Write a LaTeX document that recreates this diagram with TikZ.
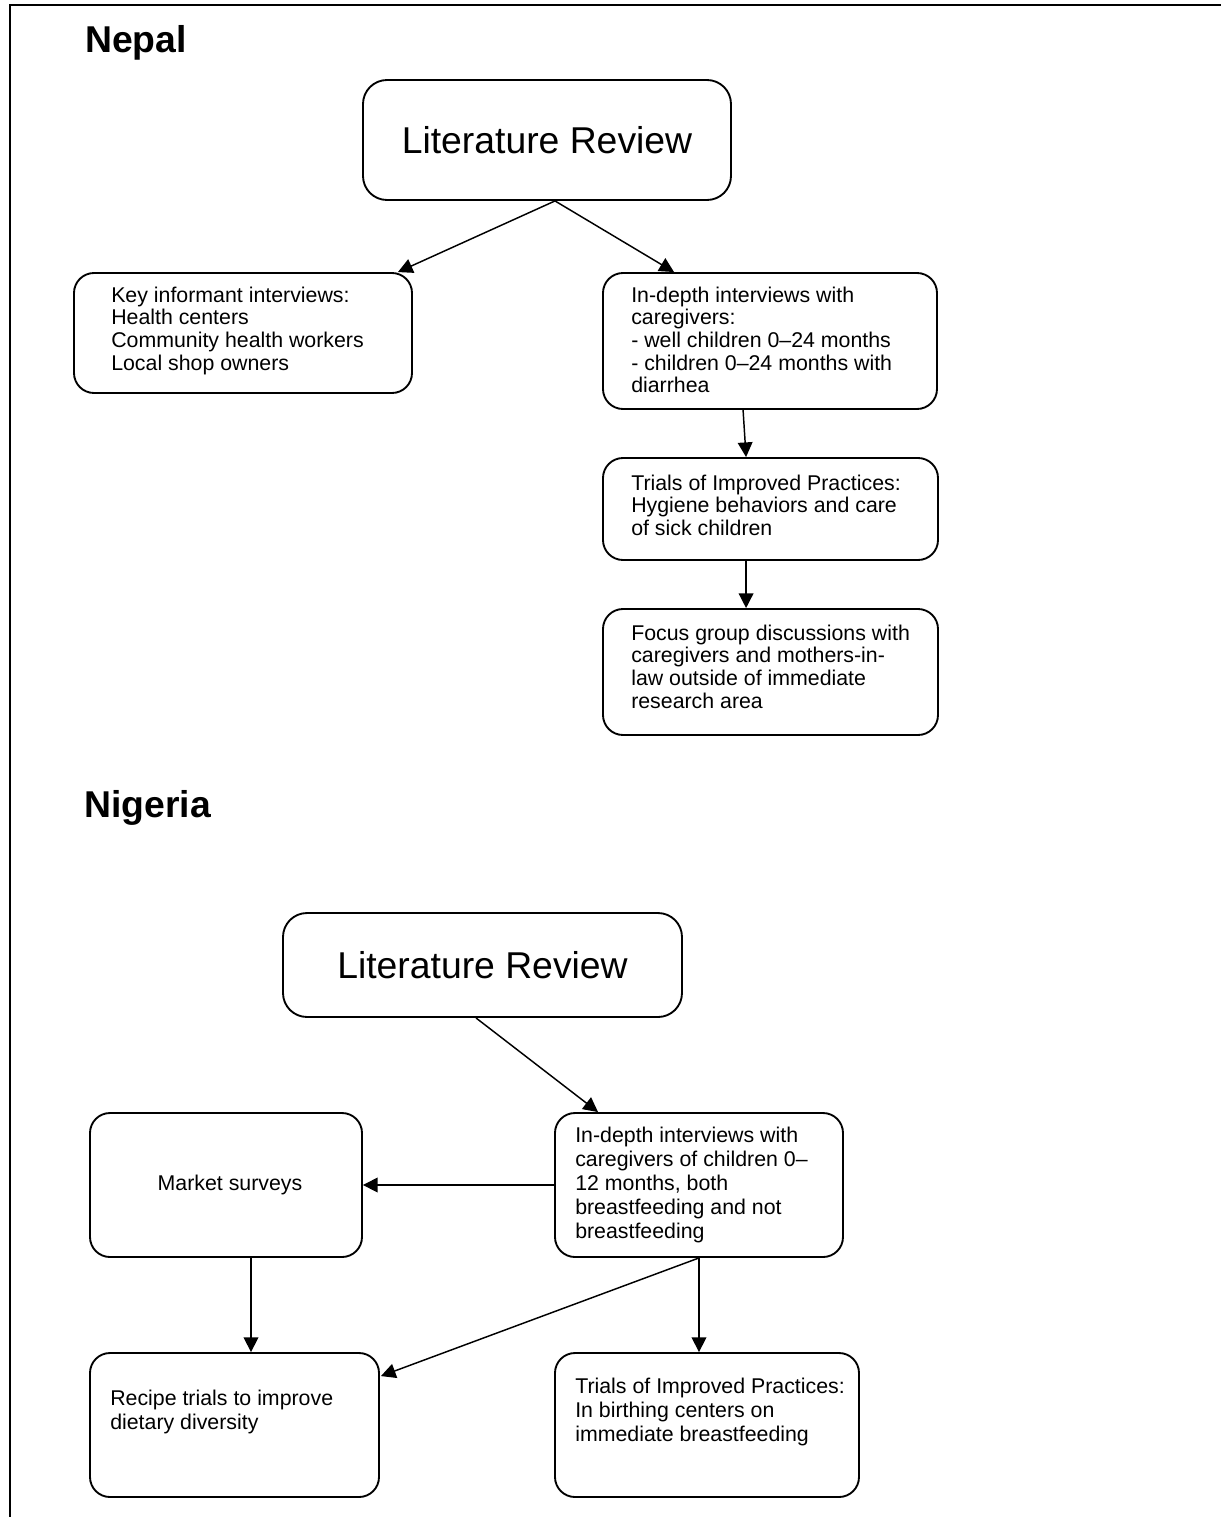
\documentclass[tikz,border=0pt]{standalone}
\usepackage{fontspec}
\setmainfont{Liberation Sans}
\usetikzlibrary{arrows.meta,calc}
\newcommand{\mylines}[1]{\begin{tabular}[t]{@{}l@{}}#1\end{tabular}}
\begin{document}
\begin{tikzpicture}[x=0.75pt,y=-0.75pt,
  box/.style={draw,line width=1.4pt,rounded corners=15pt,inner sep=0pt},
  bigbox/.style={box,rounded corners=18pt,font=\fontsize{28}{32}\selectfont},
  title/.style={anchor=base west,inner sep=0pt,font=\fontsize{28}{32}\selectfont\bfseries},
  nptxt/.style={anchor=base west,inner sep=0pt,font=\fontsize{16}{17}\selectfont},
  ngtxt/.style={anchor=base west,inner sep=0pt,font=\fontsize{16}{18}\selectfont},
  arr/.style={-{Triangle[length=11pt,width=11pt]},line width=1.1pt}]
\useasboundingbox (0,0) rectangle (1221,1517);
\draw[line width=1.5pt] (10,1517) -- (10,5) -- (1221,5);

% ---------------- Nepal ----------------
\node[title] (tnepal) at (85,52) {Nepal};
\node[bigbox,minimum width=276pt,minimum height=90pt] (lr1) at (547,140) {Literature Review};
\node[box,minimum width=253.5pt,minimum height=90pt] (key) at (243,333) {};
\node[nptxt] (keyt) at (111,302) {\mylines{Key informant interviews:\\Health centers\\Community health workers\\Local shop owners}};
\node[box,minimum width=250.5pt,minimum height=102pt] (nid) at (770,341) {};
\node[nptxt] (nidt) at (631,302) {\mylines{In-depth interviews with\\caregivers:\\- well children 0–24 months\\- children 0–24 months with\\diarrhea}};
\node[box,minimum width=251.25pt,minimum height=76.5pt] (ntr) at (770.5,509) {};
\node[nptxt] (ntrt) at (631,490) {\mylines{Trials of Improved Practices:\\Hygiene behaviors and care\\of sick children}};
\node[box,minimum width=251.25pt,minimum height=94.5pt] (foc) at (770.5,672) {};
\node[nptxt] (foct) at (631,640) {\mylines{Focus group discussions with\\caregivers and mothers-in-\\law outside of immediate\\research area}};

\coordinate (lr1b) at ($(lr1.south)+(8,0)$);
\draw[arr] (lr1b) -- ($(key.north east)+(-15,0)$);
\draw[arr] (lr1b) -- ($(nid.north west)+(72,0)$);
\draw[arr] ($(nid.south west)+(141,0)$) -- ($(ntr.north west)+(144,0)$);
\draw[arr] ($(ntr.south west)+(144,0)$) -- ($(foc.north west)+(144,0)$);

% ---------------- Nigeria ----------------
\node[title] (tnigeria) at (84,817) {Nigeria};
\node[bigbox,minimum width=299.25pt,minimum height=78pt] (lr2) at (482.5,965) {Literature Review};
\node[box,minimum width=216pt,minimum height=108pt] (gid) at (699,1185) {};
\node[ngtxt] (gidt) at (575,1142) {\mylines{In-depth interviews with\\caregivers of children 0–\\12 months, both\\breastfeeding and not\\breastfeeding}};
\node[box,minimum width=204pt,minimum height=108pt,font=\fontsize{16}{18}\selectfont] (mkt) at (226,1185) {\hspace*{6pt}Market surveys};
\node[box,minimum width=216.75pt,minimum height=108pt] (rec) at (234.5,1425) {};
\node[ngtxt] (rect) at (110,1405) {\mylines{Recipe trials to improve\\dietary diversity}};
\node[box,minimum width=228pt,minimum height=108pt] (tr2) at (707,1425) {};
\node[ngtxt] (tr2t) at (575,1393) {\mylines{Trials of Improved Practices:\\In birthing centers on\\immediate breastfeeding}};

\draw[arr] ($(lr2.south)+(-6.5,0)$) -- ($(gid.north west)+(44,0)$);
\draw[arr] (gid.west) -- (mkt.east);
\draw[arr] ($(mkt.south)+(25,0)$) coordinate (m1) -- (m1 |- rec.north);
\draw[arr] (gid.south) -- (gid.south |- tr2.north);
\draw[arr] (gid.south) -- ($(rec.north east)+(1,24)$);
\end{tikzpicture}
\end{document}
